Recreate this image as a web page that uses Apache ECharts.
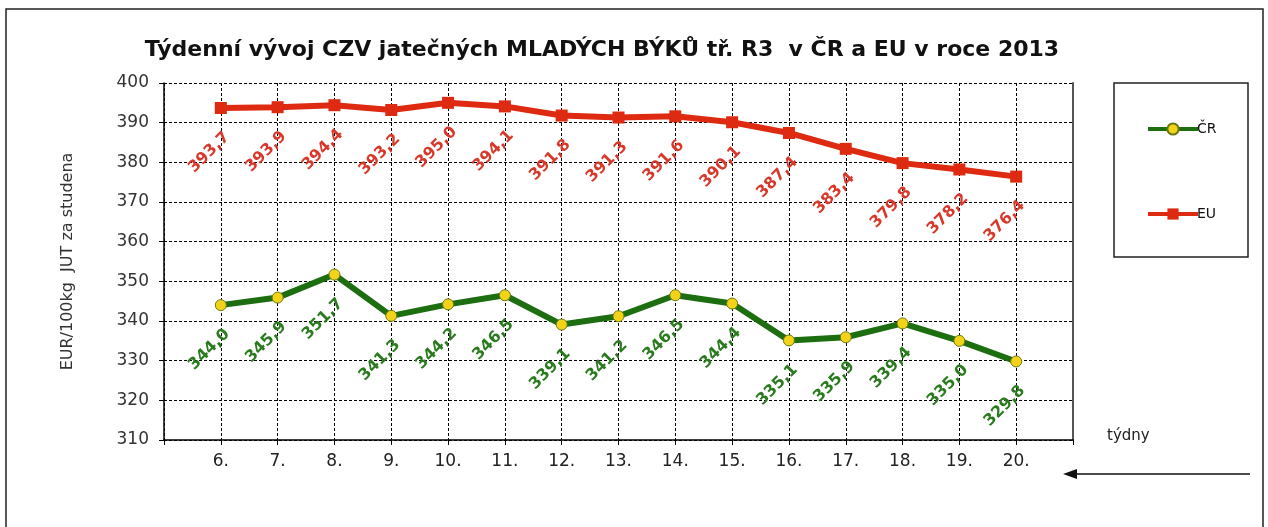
<!DOCTYPE html>
<html>
<head>
<meta charset="utf-8">
<script src="https://cdn.jsdelivr.net/npm/echarts@6/dist/echarts.min.js"></script>
<style>
  html, body { margin: 0; padding: 0; background: #fff; }
  #chart { width: 1268px; height: 527px; }
</style>
</head>
<body>
<div id="chart"></div>
<script>
// týdny (weeks)
const weeks = [6, 7, 8, 9, 10, 11, 12, 13, 14, 15, 16, 17, 18, 19, 20];
// CZV ČR
const crValues = [344.0, 345.9, 351.7, 341.3, 344.2, 346.5, 339.1, 341.2, 346.5, 344.4, 335.1, 335.9, 339.4, 335.0, 329.8];
// CZV EU
const euValues = [393.7, 393.9, 394.4, 393.2, 395.0, 394.1, 391.8, 391.3, 391.6, 390.1, 387.4, 383.4, 379.8, 378.2, 376.4];

const font = "DejaVu Sans";
const fmt = p => p.value[1].toFixed(1).replace(".", ",");

const chart = echarts.init(document.getElementById("chart"));

const labelBase = {
  show: true,
  position: "bottom",
  distance: 27,
  offset: [9, 0],
  rotate: 45,
  align: "right",
  verticalAlign: "middle",
  fontFamily: font,
  fontWeight: "bold",
  fontSize: 16,
  formatter: fmt
};

chart.setOption({
  animation: false,
  textStyle: { fontFamily: font },
  title: {
    text: "Týdenní vývoj CZV jatečných MLADÝCH BÝKŮ tř. R3  v ČR a EU v roce 2013",
    left: 597,
    textAlign: "center",
    top: 34,
    textStyle: { fontFamily: font, fontSize: 22, fontWeight: "bold", color: "#111" }
  },
  grid: { left: 164, right: 195, top: 83, bottom: 87 },
  legend: {
    orient: "vertical",
    left: 1141,
    top: 117,
    itemWidth: 50,
    itemHeight: 14,
    itemGap: 71,
    lineStyle: { width: 4 },
    textStyle: { fontFamily: font, fontSize: 14, color: "#111", padding: [0, 0, 0, -6] },
    data: ["ČR", "EU"]
  },
  xAxis: {
    type: "value",
    min: 5,
    max: 21,
    interval: 1,
    axisLine: { lineStyle: { color: "#000", width: 1.5 } },
    axisTick: { length: 5, lineStyle: { color: "#000" } },
    axisLabel: {
      fontFamily: font,
      fontSize: 17,
      color: "#222",
      margin: 13,
      formatter: v => (v >= 6 && v <= 20 ? v + "." : "")
    },
    splitLine: { show: true, lineStyle: { color: "#000", type: [3, 2], width: 1 } }
  },
  yAxis: [
    {
      type: "value",
      min: 310,
      max: 400,
      interval: 10,
      name: "EUR/100kg  JUT za studena",
      nameLocation: "middle",
      nameGap: 88,
      nameTextStyle: { fontFamily: font, fontSize: 16, color: "#333" },
      axisLine: { show: true, lineStyle: { color: "#000", width: 1.5 } },
      axisTick: { show: true, length: 5, lineStyle: { color: "#000" } },
      axisLabel: { fontFamily: font, fontSize: 17, color: "#333", margin: 15 },
      splitLine: { show: true, lineStyle: { color: "#000", type: [3, 2], width: 1 } }
    },
    {
      type: "value",
      min: 310,
      max: 400,
      interval: 10,
      position: "right",
      axisLine: { show: true, lineStyle: { color: "#555", width: 2 } },
      axisTick: { show: false },
      axisLabel: { show: false },
      splitLine: { show: false }
    }
  ],
  series: [
    {
      name: "ČR",
      type: "line",
      data: weeks.map((w, i) => [w, crValues[i]]),
      color: "#1d6e10",
      lineStyle: { width: 6, color: "#1d6e10" },
      symbol: "circle",
      symbolSize: 11,
      itemStyle: { color: "#f3d21a", borderColor: "#6a7a10", borderWidth: 1 },
      label: Object.assign({}, labelBase, { color: "#2a7a1e" }),
      z: 3
    },
    {
      name: "EU",
      type: "line",
      data: weeks.map((w, i) => [w, euValues[i]]),
      color: "#dd2a10",
      lineStyle: { width: 6, color: "#dd2a10" },
      symbol: "rect",
      symbolSize: 12,
      itemStyle: { color: "#dd2a10" },
      label: Object.assign({}, labelBase, { color: "#d8382a" }),
      z: 3
    }
  ],
  graphic: [
    {
      type: "rect",
      shape: { x: 6, y: 9, width: 1257, height: 540 },
      style: { fill: null, stroke: "#222", lineWidth: 1.5 },
      silent: true
    },
    {
      type: "rect",
      shape: { x: 1114, y: 83, width: 134, height: 174 },
      style: { fill: null, stroke: "#222", lineWidth: 1.5 },
      silent: true
    },
    {
      type: "text",
      left: 1107,
      top: 429,
      style: { text: "týdny", fontFamily: font, fontSize: 15, fill: "#222" }
    },
    {
      type: "line",
      shape: { x1: 1250, y1: 474, x2: 1072, y2: 474 },
      style: { stroke: "#111", lineWidth: 1.5 }
    },
    {
      type: "polygon",
      shape: { points: [[1063, 474], [1077, 469], [1077, 479]] },
      style: { fill: "#111" }
    }
  ]
});
</script>
</body>
</html>
